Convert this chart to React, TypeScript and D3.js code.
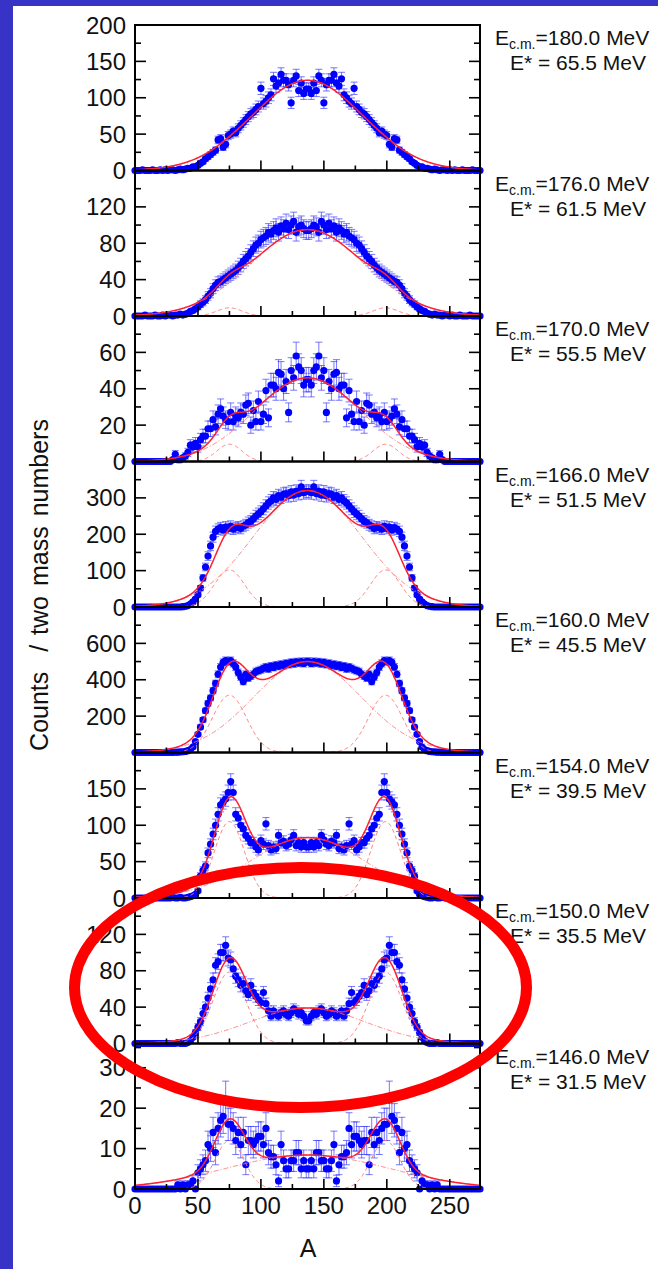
import React from "react";
import * as d3 from "d3";

// Mass-number bins (two mass numbers per bin)
const A_BINS: number[] = d3.range(0, 276, 2);

const ECM = ["180.0", "176.0", "170.0", "166.0", "160.0", "154.0", "150.0", "146.0"];
const EXC = ["65.5", "61.5", "55.5", "51.5", "45.5", "39.5", "35.5", "31.5"];
const Y_MAX = [200, 160, 80, 400, 800, 200, 160, 36];
const Y_MAJOR = [50, 40, 20, 100, 200, 50, 40, 10];
const Y_LABELS = [
  [0, 50, 100, 150, 200],
  [0, 40, 80, 120],
  [0, 20, 40, 60],
  [0, 100, 200, 300],
  [200, 400, 600],
  [0, 50, 100, 150],
  [0, 40, 80, 120],
  [0, 10, 20, 30],
];
const X_TICKS = [0, 50, 100, 150, 200, 250];

// Counts per bin (A = 0, 2, ..., 274)
const COUNTS_180 = [
  0,0,0,1,0,0,0,1,0,0, 1,0,1,0,1,1,0,1,2,1, 2,3,3,5,5,7,10,12,16,19,
  22,25,28,42,44,32,36,48,50,54, 52,58,62,66,70,74,78,80,84,88,
  113,92,95,100,104,126,116,120,132,124, 124,118,93,124,130,110,120,106,112,
  112,106,120,110,130,124,93,118,124, 124,132,120,116,126,104,100,95,92,113,
  88,84,80,78,74,70,66,62,58,52, 54,50,48,36,32,44,42,28,25,22,
  19,16,12,10,7,5,5,3,3,2, 1,2,1,0,1,1,0,1,0,1, 0,0,1,0,0,0,1,0,0,0,
];
const COUNTS_176 = [
  0,0,0,0,1,0,0,0,1,0, 0,1,0,1,1,0,1,1,2,1, 2,3,5,6,8,10,13,15,18,22,
  25,30,34,37,38,40,42,44,46,48, 50,53,56,60,63,66,70,74,78,80,
  84,86,88,92,90,94,97,92,99,96, 102,95,100,104,92,98,100,96,94,
  94,96,100,98,92,104,100,95,102, 96,99,92,97,94,90,92,88,86,84,
  80,78,74,70,66,63,60,56,53,50, 48,46,44,42,40,38,37,34,30,25,
  22,18,15,13,10,8,6,5,3,2, 1,2,1,1,0,1,1,0,1,0, 0,1,0,0,0,1,0,0,0,0,
];
const COUNTS_170 = [
  0,0,0,0,0,0,0,0,0,0, 0,0,0,0,0,1,4,1,1,2, 3,5,9,8,10,8,12,14,14,18,
  18,23,19,26,29,25,23,22,27,22, 25,24,27,26,31,32,20,28,22,33,
  22,26,39,24,42,42,40,49,48,40, 44,27,50,46,58,52,50,42,45,
  45,42,50,52,58,46,50,27,44, 40,48,49,40,42,42,24,39,26,22,
  33,22,28,20,32,31,26,27,24,25, 22,27,22,23,25,29,26,19,23,18,
  18,14,14,12,8,10,8,9,5,3, 2,1,1,4,1,0,0,0,0,0, 0,0,0,0,0,0,0,0,0,0,
];
const COUNTS_166 = [
  0,0,0,0,0,0,0,0,0,0, 0,0,0,0,0,0,0,0,0,1, 2,4,8,14,22,34,52,80,110,140,
  168,192,208,214,218,212,220,216,222,214, 218,220,216,222,226,232,236,242,250,256,
  262,270,278,286,292,300,296,306,302,310, 312,306,316,308,318,312,330,314,318,
  318,314,330,312,318,308,316,306,312, 310,302,306,296,300,292,286,278,270,262,
  256,250,242,236,232,226,222,216,220,218, 214,222,216,220,212,218,214,208,192,168,
  140,110,80,52,34,22,14,8,4,2, 1,0,0,0,0,0,0,0,0,0, 0,0,0,0,0,0,0,0,0,0,
];
const COUNTS_160 = [
  0,0,0,0,0,0,0,0,0,0, 0,0,1,0,1,1,2,2,3,4, 6,10,16,30,60,100,140,180,230,270,
  300,340,380,430,470,495,505,500,505,490, 470,440,415,390,430,410,420,430,445,450,
  455,462,470,460,475,468,480,474,485,478, 490,484,495,488,498,492,500,490,500,
  500,490,500,492,498,488,495,484,490, 478,485,474,480,468,475,460,470,462,455,
  450,445,430,420,410,430,390,415,440,470, 490,505,500,505,495,470,430,380,340,300,
  270,230,180,140,100,60,30,16,10,6, 4,3,2,2,1,1,0,1,0,0, 0,0,0,0,0,0,0,0,0,0,
];
const COUNTS_154 = [
  0,0,0,0,0,0,0,0,0,0, 0,0,0,0,0,1,0,0,1,0, 0,1,2,3,5,10,30,38,44,62,
  74,88,100,115,128,132,136,145,160,145, 115,110,100,95,86,82,76,76,70,66,
  79,74,102,72,66,70,68,86,76,78, 72,74,80,86,72,76,70,76,70,
  70,76,70,76,72,86,80,74,72, 78,76,86,68,70,66,72,102,74,79,
  66,70,76,76,82,86,95,100,110,115, 145,160,145,136,132,128,115,100,88,74,
  62,44,38,30,10,5,3,2,1,0, 0,1,0,0,1,0,0,0,0,0, 0,0,0,0,0,0,0,0,0,0,
];
const COUNTS_150 = [
  0,0,0,0,0,0,0,0,0,0, 0,0,0,0,0,0,0,1,0,0, 0,1,3,7,12,18,24,33,40,50,
  60,70,86,90,100,100,108,94,92,82, 74,70,64,66,58,54,64,56,52,48,
  45,56,44,36,30,36,32,30,34,36, 32,30,34,38,36,32,34,30,25,
  25,30,34,32,36,38,34,30,32, 36,34,30,32,36,30,36,44,56,45,
  48,52,56,64,54,58,66,64,70,74, 82,92,94,108,100,100,90,86,70,60,
  50,40,33,24,18,12,7,3,1,0, 0,0,1,0,0,0,0,0,0,0, 0,0,0,0,0,0,0,0,0,0,
];
const COUNTS_146 = [
  0,0,0,0,0,0,0,0,0,0, 0,0,0,0,0,0,0,1,0,1, 0,1,1,2,0,4,5,6,7,11,
  10,14,9,15,17,18,22,16,16,15, 12,14,11,14,6,12,12,11,12,13,
  13,11,15,9,8,8,6,2,11,7, 5,5,7,7,9,9,5,7,5,
  5,7,5,9,9,7,7,5,5, 7,11,2,6,8,8,9,15,11,13,
  13,12,11,12,12,6,14,11,14,12, 15,16,16,22,18,17,15,9,14,10,
  11,7,6,5,4,0,2,1,1,0, 1,0,1,0,0,0,0,0,0,0, 0,0,0,0,0,0,0,0,0,0,
];
const COUNTS = [COUNTS_180, COUNTS_176, COUNTS_170, COUNTS_166, COUNTS_160, COUNTS_154, COUNTS_150, COUNTS_146];
const ERR_SCALE = [0.8, 1, 1, 1, 0.9, 0.85, 0.9, 1];

// Fit components (Gaussian parameters)
const SIDE_AMP = [1, 9, 9.5, 102, 315, 105, 78.5, 12];
const SIDE_LOW = [75, 75, 75, 75, 75, 75, 75, 75];
const SIDE_HIGH = [199, 199, 199, 199, 199, 199, 199, 199];
const SIDE_SIGMA = [10, 10, 10, 12, 13.5, 12, 13, 11.5];
const CENT_AMP = [124, 95, 46, 320, 500, 83, 39, 8.4];
const CENT_MU = [137, 137, 137, 137, 137, 137, 137, 137];
const CENT_SIGMA = [44, 45, 42, 43, 43, 46, 46, 65];

const W = 658, H = 1269;
const PLOT_L = 135, PLOT_R = 480, TOP = 25, PANEL_H = 145.5;
const FONT = "'Liberation Sans', Arial, Helvetica, sans-serif";

const gauss = (a: number, amp: number, mu: number, s: number) =>
  amp * Math.exp(-((a - mu) * (a - mu)) / (2 * s * s));

export default function App() {
  const x = d3.scaleLinear().domain([0, 274]).range([PLOT_L, PLOT_R]);
  const fine = d3.range(0, 274.5, 0.5);

  const panels = COUNTS.map((counts, p) => {
    const top = TOP + p * PANEL_H;
    const bottom = top + PANEL_H;
    const y = d3.scaleLinear().domain([0, Y_MAX[p]]).range([bottom, top]);
    const minorStep = Y_MAJOR[p] / 2;
    const yTicks = d3.range(minorStep, Y_MAX[p] - 0.001, minorStep);
    const xTicks = d3.range(25, 274, 25);
    const line = d3
      .line<number>()
      .x((a) => x(a))
      .y((a) => y(a));
    const sideL = (a: number) => gauss(a, SIDE_AMP[p], SIDE_LOW[p], SIDE_SIGMA[p]);
    const sideH = (a: number) => gauss(a, SIDE_AMP[p], SIDE_HIGH[p], SIDE_SIGMA[p]);
    const cent = (a: number) => gauss(a, CENT_AMP[p], CENT_MU[p], CENT_SIGMA[p]);
    const lineOf = (f: (a: number) => number) =>
      d3.line<number>().x((a) => x(a)).y((a) => y(f(a)))(fine) || "";
    const total = lineOf((a) => sideL(a) + sideH(a) + cent(a));
    void line;
    return (
      <g key={p}>
        <defs>
          <clipPath id={`clip${p}`}>
            <rect x={PLOT_L} y={top} width={PLOT_R - PLOT_L} height={PANEL_H} />
          </clipPath>
        </defs>
        {/* error bars */}
        <g stroke="#3f3fff" strokeOpacity={0.7} strokeWidth={1}>
          {counts.map((v, i) => {
            const e = Math.sqrt(v) * ERR_SCALE[p];
            if (e <= 0) return null;
            const cx = x(A_BINS[i]);
            const y1 = y(v + e), y2 = y(Math.max(0, v - e));
            return (
              <g key={i}>
                <line x1={cx} x2={cx} y1={y1} y2={y2} />
                <line x1={cx - 3.5} x2={cx + 3.5} y1={y1} y2={y1} />
                <line x1={cx - 3.5} x2={cx + 3.5} y1={y2} y2={y2} />
              </g>
            );
          })}
        </g>
        {/* points */}
        <g fill="#0000ff">
          {counts.map((v, i) => (
            <circle key={i} cx={x(A_BINS[i])} cy={y(v)} r={3.6} />
          ))}
        </g>
        {/* fit curves */}
        <g clipPath={`url(#clip${p})`} fill="none">
          <path d={lineOf(sideL)} stroke="#ff7a7a" strokeWidth={1} strokeDasharray="4,3" />
          <path d={lineOf(sideH)} stroke="#ff7a7a" strokeWidth={1} strokeDasharray="4,3" />
          <path d={lineOf(cent)} stroke="#ff7a7a" strokeWidth={1} strokeDasharray="5,2,1,2" />
          <path d={total} stroke="#ff2030" strokeWidth={1.5} />
        </g>
        {/* frame */}
        <rect x={PLOT_L} y={top} width={PLOT_R - PLOT_L} height={PANEL_H} fill="none" stroke="#000" strokeWidth={2} />
        {/* y ticks both sides */}
        <g stroke="#000" strokeWidth={1.6}>
          {yTicks.map((t) => {
            const major = Math.abs(t / Y_MAJOR[p] - Math.round(t / Y_MAJOR[p])) < 1e-6;
            const len = major ? 11 : 6;
            return (
              <g key={t}>
                <line x1={PLOT_L} x2={PLOT_L + len} y1={y(t)} y2={y(t)} />
                <line x1={PLOT_R} x2={PLOT_R - len} y1={y(t)} y2={y(t)} />
              </g>
            );
          })}
          {xTicks.map((t) => {
            const major = t % 50 === 0;
            const len = major ? 10 : 5;
            return <line key={t} x1={x(t)} x2={x(t)} y1={bottom} y2={bottom - len} />;
          })}
        </g>
        {/* y labels */}
        <g fontFamily={FONT} fontSize={24} fill="#111" textAnchor="end">
          {Y_LABELS[p].map((t) => (
            <text key={t} x={126} y={y(t) + 8.5}>
              {t}
            </text>
          ))}
        </g>
        {/* energy annotations */}
        <g fontFamily={FONT} fill="#111">
          <text x={495} y={top + 20} fontSize={21}>
            E
            <tspan fontSize={14} dy={4}>
              c.m.
            </tspan>
            <tspan dy={-4}>={ECM[p]} MeV</tspan>
          </text>
          <text x={646} y={top + 45} fontSize={21} textAnchor="end">
            E* = {EXC[p]} MeV
          </text>
        </g>
      </g>
    );
  });

  const bottomY = TOP + 8 * PANEL_H;

  return (
    <svg
      width={W}
      height={H}
      style={{ position: "absolute", left: 0, top: 0, background: "#fff" }}
      xmlns="http://www.w3.org/2000/svg"
    >
      <rect x={0} y={0} width={W} height={H} fill="#fff" />
      <rect x={0} y={0} width={13} height={H} fill="#3633c6" />
      <rect x={0} y={0} width={W} height={6} fill="#3633c6" />
      {panels}
      <g fontFamily={FONT} fontSize={24} fill="#111" textAnchor="middle">
        {X_TICKS.map((t) => (
          <text key={t} x={x(t)} y={bottomY + 25}>
            {t}
          </text>
        ))}
        <text x={308} y={1257} fontSize={25}>
          A
        </text>
        <text
          transform="translate(48,585) rotate(-90)"
          fontSize={25}
          style={{ whiteSpace: "pre" }}
          wordSpacing={3}
        >
          {"Counts  / two mass numbers"}
        </text>
      </g>
      <ellipse cx={300.5} cy={987.5} rx={226} ry={120} fill="none" stroke="#ff0000" strokeWidth={11} />
    </svg>
  );
}
